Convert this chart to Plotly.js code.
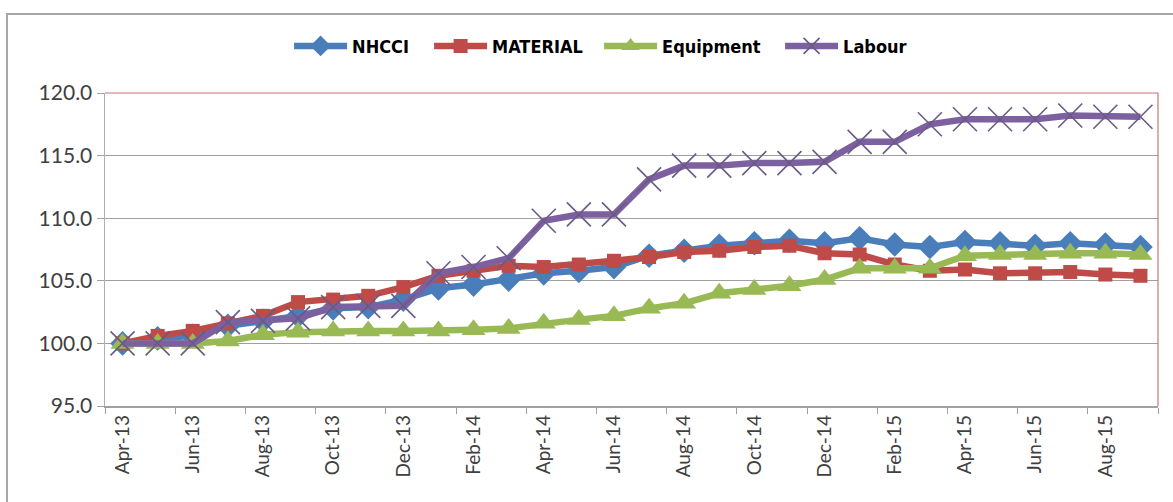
<!DOCTYPE html>
<html>
<head>
<meta charset="utf-8">
<script src="https://cdn.plot.ly/plotly-3.0.1.min.js"></script>
<style>
html,body{margin:0;padding:0;background:#fff;}
#chart{width:1173px;height:502px;position:absolute;left:0;top:0;}
#frame{position:absolute;left:6px;top:13px;width:1300px;height:600px;border-left:2px solid #a6a6a6;border-top:2px solid #a6a6a6;pointer-events:none;}
</style>
</head>
<body>
<div id="chart"></div>
<div id="frame"></div>
<script>
const months = ["Apr-13","May-13","Jun-13","Jul-13","Aug-13","Sep-13","Oct-13","Nov-13","Dec-13",
  "Jan-14","Feb-14","Mar-14","Apr-14","May-14","Jun-14","Jul-14","Aug-14","Sep-14","Oct-14","Nov-14","Dec-14",
  "Jan-15","Feb-15","Mar-15","Apr-15","May-15","Jun-15","Jul-15","Aug-15","Sep-15"];

const nhcci = [100.0,100.4,100.6,101.4,101.8,102.2,102.8,102.9,103.5,
  104.4,104.7,105.1,105.6,105.8,106.1,107.0,107.4,107.8,108.0,108.2,108.0,
  108.4,107.9,107.7,108.1,108.0,107.8,108.0,107.9,107.7];

const material = [100.0,100.6,101.0,101.6,102.2,103.3,103.5,103.8,104.5,
  105.4,105.8,106.2,106.1,106.3,106.6,106.9,107.3,107.4,107.7,107.8,107.2,
  107.1,106.3,105.8,105.9,105.6,105.6,105.7,105.5,105.4];

const equipment = [100.0,100.0,100.0,100.2,100.7,100.9,101.0,101.0,101.0,
  101.0,101.1,101.2,101.6,101.9,102.2,102.8,103.2,104.0,104.3,104.6,105.1,
  106.0,106.0,106.0,107.0,107.1,107.1,107.2,107.2,107.1];

const labour = [100.0,100.0,100.0,101.7,101.8,102.0,102.9,103.0,103.0,
  105.6,106.1,106.8,109.8,110.3,110.3,113.1,114.2,114.2,114.4,114.4,114.5,
  116.1,116.1,117.5,117.9,117.9,117.9,118.2,118.1,118.1];

const yTicks = [95,100,105,110,115,120];

const traces = [
  {name:"NHCCI", x:months, y:nhcci, type:"scatter", mode:"lines+markers", legendwidth:72,
   line:{color:"#4a7ebb", width:6.5}, marker:{symbol:"diamond", size:19, color:"#4a7ebb"}},
  {name:"MATERIAL", x:months, y:material, type:"scatter", mode:"lines+markers", legendwidth:102,
   line:{color:"#be4b48", width:6.5}, marker:{symbol:"square", size:14, color:"#be4b48"}},
  {name:"Equipment", x:months, y:equipment, type:"scatter", mode:"lines+markers", legendwidth:113,
   line:{color:"#98b954", width:6.5}, marker:{symbol:"triangle-up", size:21, color:"#98b954"}},
  {name:"Labour", x:months, y:labour, type:"scatter", mode:"lines+markers", legendwidth:64,
   line:{color:"#7d60a0", width:6.5}, marker:{symbol:"x-thin-open", size:24, color:"#6a5a86", line:{color:"#6a5a86", width:1.6}}}
];

const layout = {
  width:1173, height:502,
  margin:{l:105, r:15, t:93, b:96, pad:0},
  paper_bgcolor:"#ffffff", plot_bgcolor:"#ffffff",
  font:{family:"Lato, 'Open Sans', sans-serif", color:"#404040"},
  showlegend:true,
  legend:{orientation:"h", xref:"container", yref:"container", x:0.512, xanchor:"center", y:0.908, yanchor:"middle",
    font:{family:"'Liberation Sans Narrow', 'DejaVu Sans Condensed', 'Liberation Sans', sans-serif", size:18, color:"#000000", weight:"bold"},
    itemwidth:53, traceorder:"normal"},
  xaxis:{type:"category", categoryorder:"array", categoryarray:months,
    range:[-0.5, months.length-0.5], dtick:2, tickson:"boundaries",
    ticks:"outside", ticklen:6, tickwidth:1, tickcolor:"#a0a0a0",
    showline:true, linecolor:"#a0a0a0", linewidth:1.5, showgrid:false, zeroline:false,
    tickangle:-90, tickfont:{family:"Lato, 'Open Sans', sans-serif", size:19, color:"#404040"}, fixedrange:true},
  yaxis:{range:[95,120], tickvals:yTicks, tickformat:".1f",
    ticks:"outside", ticklen:7, tickwidth:1, tickcolor:"#a0a0a0",
    showline:true, linecolor:"#b0b0b0", linewidth:1.5, showgrid:true, gridcolor:"#a0a0a0", gridwidth:1,
    zeroline:false, tickfont:{family:"Lato, 'Open Sans', sans-serif", size:21, color:"#404040"}, fixedrange:true},
  shapes:[
    {type:"line", xref:"paper", yref:"paper", x0:0, x1:1, y0:1, y1:1, line:{color:"#cc7473", width:1.2}, layer:"above"},
    {type:"line", xref:"paper", yref:"paper", x0:1, x1:1, y0:0, y1:1, line:{color:"#cc7473", width:1.2}, layer:"above"}
  ]
};

Plotly.newPlot("chart", traces, layout, {displayModeBar:false, staticPlot:true});
</script>
</body>
</html>
